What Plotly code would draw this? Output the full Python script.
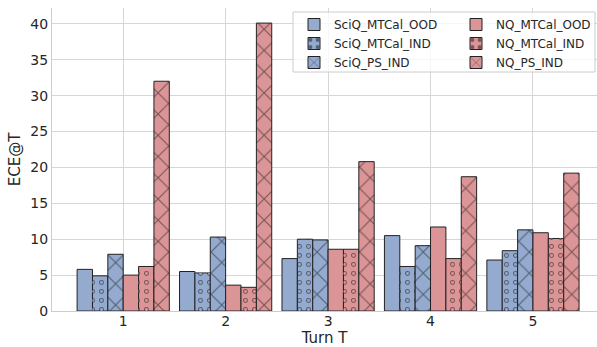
import plotly.graph_objects as go

turns = [1, 2, 3, 4, 5]
sciq_mtcal_ood = [5.8, 5.5, 7.3, 10.5, 7.1]
sciq_mtcal_ind = [4.9, 5.3, 10.0, 6.2, 8.4]
sciq_ps_ind = [7.9, 10.3, 9.9, 9.1, 11.3]
nq_mtcal_ood = [5.0, 3.6, 8.6, 11.7, 10.9]
nq_mtcal_ind = [6.2, 3.3, 8.6, 7.3, 10.1]
nq_ps_ind = [32.0, 40.1, 20.8, 18.7, 19.2]

BLUE = "#94AACF"
RED = "#DC9597"
EDGE = "#222222"

series = [
    ("SciQ_MTCal_OOD", sciq_mtcal_ood, BLUE, "", "legend"),
    ("SciQ_MTCal_IND", sciq_mtcal_ind, BLUE, "o", "legend"),
    ("SciQ_PS_IND", sciq_ps_ind, BLUE, "x", "legend"),
    ("NQ_MTCal_OOD", nq_mtcal_ood, RED, "", "legend2"),
    ("NQ_MTCal_IND", nq_mtcal_ind, RED, "o", "legend2"),
    ("NQ_PS_IND", nq_ps_ind, RED, "x", "legend2"),
]

W = 0.15
DOT = 9

fig = go.Figure()
for i, (name, vals, col, hatch, leg) in enumerate(series):
    off = -0.45 + W * i
    if hatch == "o":
        pat = dict(shape=".", size=DOT, solidity=0.24, fgcolor="#111111",
                   fillmode="overlay")
    elif hatch == "x":
        pat = dict(shape="x", size=15, solidity=0.14, fgcolor="#111111",
                   fillmode="overlay")
    else:
        pat = dict(shape="")
    fig.add_trace(go.Bar(
        x=turns, y=vals, name=name, legend=leg, offset=off, width=W,
        marker=dict(color=col, line=dict(color=EDGE, width=1), pattern=pat),
    ))
    if hatch == "o":
        # inner fill of the circles -> open rings
        fig.add_trace(go.Bar(
            x=turns, y=vals, name=name, showlegend=False, offset=off, width=W,
            hoverinfo="skip",
            marker=dict(color=col, line=dict(width=0),
                        pattern=dict(shape=".", size=DOT, solidity=0.085,
                                     fillmode="replace",
                                     bgcolor="rgba(0,0,0,0)")),
        ))

L, R_, T, B = 52, 0, 8, 36
PW = 597 - L - R_
PH = 347 - T - B

def px_x(p):
    return (p - L) / PW

def px_y(p):
    return 1 - (p - T) / PH

legfont = dict(family="DejaVu Sans", size=12, color="#262626")
fig.update_layout(
    width=597, height=347,
    margin=dict(l=L, r=R_, t=T, b=B),
    paper_bgcolor="white", plot_bgcolor="white",
    barmode="overlay",
    font=dict(family="DejaVu Sans", size=14, color="#262626"),
    legend=dict(x=px_x(294), xanchor="left", y=px_y(10), yanchor="top",
                bgcolor="rgba(0,0,0,0)", borderwidth=0, font=legfont,
                itemwidth=30, tracegroupgap=0),
    legend2=dict(x=px_x(456), xanchor="left", y=px_y(10), yanchor="top",
                 bgcolor="rgba(0,0,0,0)", borderwidth=0, font=legfont,
                 itemwidth=30, tracegroupgap=0),
    shapes=[dict(type="rect", xref="paper", yref="paper",
                 x0=px_x(293), x1=px_x(595), y0=px_y(72), y1=px_y(12),
                 fillcolor="rgba(255,255,255,0.8)",
                 line=dict(color="#cccccc", width=1), layer="above")],
)
fig.update_xaxes(
    range=[0.305, 5.625], tickmode="array", tickvals=turns,
    ticktext=[str(t) for t in turns],
    showgrid=True, gridcolor="#d6d6d6", gridwidth=1,
    showline=True, linecolor="#cccccc", linewidth=1,
    ticks="", tickfont=dict(size=14), ticklabelstandoff=-3,
    title=dict(text="Turn T", font=dict(size=15), standoff=2),
    zeroline=False,
)
fig.update_yaxes(
    range=[0, 42.2], tickvals=[0, 5, 10, 15, 20, 25, 30, 35, 40],
    showgrid=True, gridcolor="#d6d6d6", gridwidth=1,
    showline=True, linecolor="#cccccc", linewidth=1,
    ticks="", tickfont=dict(size=14),
    title=dict(text="ECE@T", font=dict(size=15), standoff=6),
    zeroline=False,
)

fig.write_html("out.html")
